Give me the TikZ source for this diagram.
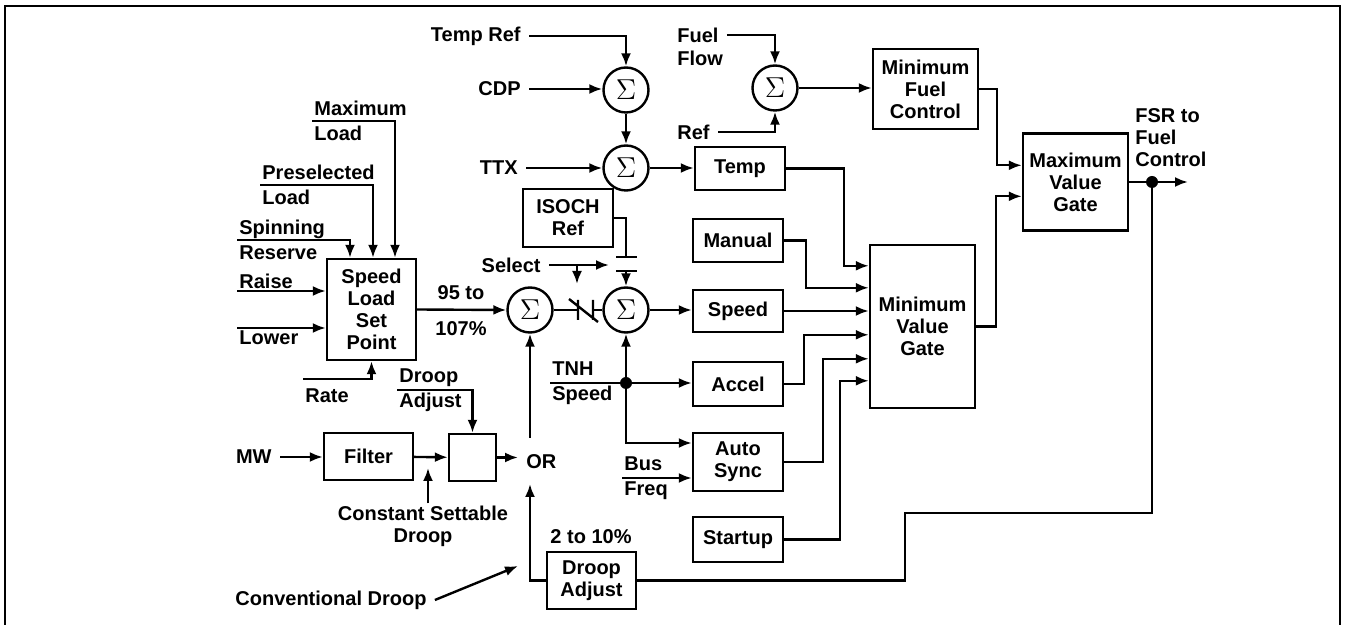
\documentclass[tikz,border=0pt]{standalone}
\usepackage{fontspec}
\setmainfont{Liberation Sans}
\usetikzlibrary{calc, positioning, arrows.meta}

\tikzset{
  blk/.style={draw, line width=1.2pt, minimum width=45pt, align=center, inner sep=1pt},
  sig/.style={draw, circle, line width=1.2pt, minimum size=22.5pt, inner sep=0pt, font=\Large},
  lbl/.style={inner ysep=1pt, inner xsep=4pt, align=left},
  wlbl/.style={inner sep=1pt, align=left, font=\bfseries\fontsize{10}{12.5}\selectfont},
  wire/.style={line width=1.2pt},
  arr/.style={wire, -{Latex[length=6.5pt,width=5pt]}},
  dot/.style={circle, fill, inner sep=0pt, minimum size=6pt},
}

\begin{document}
\begin{tikzpicture}[x=0.5pt, y=-0.5pt, every node/.style={font=\bfseries\fontsize{10}{11}\selectfont}]
\useasboundingbox (0,0) rectangle (1346,625);

% Frame
\draw[line width=0.8pt] (5,625) -- (5,6) -- (1340,6) -- (1340,625);

% Summing junctions
\node[sig] (sumT) at (626,90) {$\Sigma$};
\node[sig] (sumX) at (626,168) {$\Sigma$};
\node[sig] (sumF) at (775,88) {$\Sigma$};
\node[sig] (sumA) at (530,310) {$\Sigma$};
\node[sig] (sumB) at (626,310) {$\Sigma$};

% Blocks
\node[blk, minimum width=44.5pt, minimum height=50.5pt] (slsp) at (371.5,309.5) {Speed\\Load\\Set\\Point};
\node[blk, minimum width=44.5pt, minimum height=23.5pt] (filter) at (368.5,456.5) {Filter};
\node[blk, minimum width=23.5pt, minimum height=23.5pt] (dbox) at (472.5,457.5) {};
\node[blk, minimum width=44.5pt, minimum height=28.5pt] (dadj) at (591.5,580.5) {Droop\\Adjust};
\node[blk, minimum height=29pt] (isoch) at (568,218) {ISOCH\\Ref};
\node[blk, minimum height=21.5pt] (temp) at (740,168.5) {Temp};
\node[blk, minimum height=21.5pt] (manual) at (738,240.5) {Manual};
\node[blk, minimum height=21pt] (speed) at (738,311) {Speed};
\node[blk, minimum height=22pt] (accel) at (738,384) {Accel};
\node[blk, minimum height=29pt] (autosync) at (738,462) {Auto\\Sync};
\node[blk, minimum height=22.5pt] (startup) at (738,539.5) {Startup};
\node[blk, minimum width=52.5pt, minimum height=81.5pt] (minvg) at (922.5,326.5) {Minimum\\Value\\Gate};
\node[blk, minimum width=52.5pt, minimum height=40pt] (minfc) at (925.5,89) {Minimum\\Fuel\\Control};
\node[blk, minimum width=52.5pt, minimum height=48.5pt] (maxvg) at (1075.5,182) {Maximum\\Value\\Gate};

% Temperature and fuel inputs
\node[lbl, anchor=east] (tempref) at (529,36) {Temp Ref};
\node[lbl, anchor=east] (cdp) at (529,89) {CDP};
\node[lbl, anchor=east] (ttx) at (526,168) {TTX};
\node[lbl, anchor=west] (fuel) at (669,35) {Fuel};
\node[lbl, anchor=west] (flow) at (669,58) {Flow};
\node[lbl, anchor=east] (ref) at (718,132) {Ref};
\draw[arr] (tempref.east) -| (sumT.north);
\draw[arr] (cdp.east) -- (cdp.east -| sumT.west);
\draw[arr] (sumT) -- (sumX);
\draw[arr] (ttx.east) -- (ttx.east -| sumX.west);
\draw[arr] (sumX.east) -- (sumX.east -| temp.west);
\draw[arr] (fuel.east) -| (sumF.north);
\draw[arr] (ref.east) -| (sumF.south);
\draw[arr] (sumF.east) -- (sumF.east -| minfc.west);

% Speed load set point inputs
\node[wlbl, anchor=west] (maxload) at (312,121) {Maximum\\Load};
\node[wlbl, anchor=west] (preload) at (260,185) {Preselected\\Load};
\node[wlbl, anchor=west] (spinres) at (237,240) {Spinning\\Reserve};
\node[wlbl, anchor=south west] (raise) at (237,291) {Raise};
\node[wlbl, anchor=north west] (lower) at (237,328) {Lower};
\node[wlbl, anchor=west] (rate) at (303,396) {Rate};
\coordinate (ratein) at (303,379);
\draw[arr] (maxload.west) -| ($(slsp.north)+(23.5,0)$);
\draw[arr] (preload.west) -| ($(slsp.north)+(1.5,0)$);
\draw[arr] (spinres.west) -| ($(slsp.north)+(-21.5,0)$);
\draw[arr] (raise.south west) -- (raise.south west -| slsp.west);
\draw[arr] (lower.north west) -- (lower.north west -| slsp.west);
\draw[arr] (ratein) -| (slsp.south);
\draw[arr] (slsp.east) -- (sumA.west);
\node[lbl] (pcthi) at (461,293) {95 to};
\node[lbl] (pctlo) at (461,329) {107\%};

% Droop path
\node[lbl, anchor=east] (mw) at (280,457) {MW};
\node[wlbl, anchor=west] (droopin) at (397,390) {Droop\\Adjust};
\node[lbl, align=center] (csd) at (423,526) {Constant Settable\\Droop};
\node[lbl, anchor=west] (ornode) at (518,462) {OR};
\node[lbl] (range) at (591,537) {2 to 10\%};
\node[lbl, anchor=west] (convd) at (227,600) {Conventional Droop};
\coordinate (csdtip) at (428,468);
\coordinate (ortop) at (530,438);
\coordinate (orbot) at (530,484);
\coordinate (convtip) at (518,566);
\draw[arr] (mw.east) -- (mw.east -| filter.west);
\draw[arr] (filter) -- (dbox);
\draw[arr] (droopin.west) -| (dbox.north);
\draw[arr] (csdtip |- csd.north) -- (csdtip);
\draw[arr] (dbox.east) -- (dbox.east -| ornode.west);
\draw[arr] (ortop) -- (sumA.south);
\draw[arr] (dadj.west) -| (orbot);
\draw[arr] (convd.east) -- (convtip);

% Contacts and isochronous reference
\draw[wire] (sumA.east) -- (578,310);
\draw[wire] (578,300) -- (578,320) (593,300) -- (593,320) (569,299) -- (598,322);
\draw[wire] (593,310) -- (sumB.west);
\coordinate (noctop) at (626,257);
\coordinate (nocbot) at (626,271);
\draw[wire] (isoch.east) -| (noctop);
\draw[wire] (616,257) -- (637,257) (616,271) -- (637,271);
\draw[arr] (nocbot) -- (sumB.north);
\node[lbl, anchor=east] (select) at (549,265) {Select};
\coordinate (seltip) at (609,265);
\coordinate (seldrop) at (577,265);
\draw[arr] (select.east) -- (seltip);
\draw[arr] (seldrop) -- ++(0,19);

% Speed signal
\node[wlbl, anchor=west] (tnh) at (550,383) {TNH\\Speed};
\node[wlbl, anchor=west] (busfreq) at (622,478) {Bus\\Freq};
\node[dot] (tnhdot) at (626,383) {};
\draw[wire] (tnh.west) -- (tnhdot);
\draw[arr] (tnhdot) -- (sumB.south);
\draw[arr] (tnhdot) -- (tnhdot -| accel.west);
\draw[arr] (tnhdot) |- ($(autosync.west)+(0,-19)$);
\draw[arr] (busfreq.west) -- (busfreq.west -| autosync.west);
\draw[arr] (sumB.east) -- (sumB.east -| speed.west);

% Into minimum value gate
\draw[arr] (temp.east) -- ++(58,0) |- ($(minvg.north west)+(0,22)$);
\draw[arr] (manual.east) -- ++(22,0) |- ($(minvg.north west)+(0,44)$);
\draw[arr] (speed.east) -- (speed.east -| minvg.west);
\draw[arr] (accel.east) -- ++(20,0) |- ($(minvg.north west)+(0,91)$);
\draw[arr] (autosync.east) -- ++(39,0) |- ($(minvg.north west)+(0,115)$);
\draw[arr] (startup.east) -- ++(56,0) |- ($(minvg.north west)+(0,137)$);

% Maximum value gate and output
\draw[arr] (minfc.east) -- ++(18,0) |- ($(maxvg.north west)+(0,33)$);
\draw[arr] (minvg.east) -- ++(20,0) |- ($(maxvg.north west)+(0,64)$);
\node[dot] (fsrdot) at (1152,182) {};
\coordinate (fsrout) at (1188,182);
\coordinate (fbturn) at (905,513);
\draw[wire] (maxvg.east) -- (fsrdot);
\draw[arr] (fsrdot) -- (fsrout);
\draw[wire] (fsrdot) |- (fbturn) |- (dadj.east);
\node[lbl, anchor=north west] (fsr) at (1127,106) {FSR to\\Fuel\\Control};
\end{tikzpicture}
\end{document}
